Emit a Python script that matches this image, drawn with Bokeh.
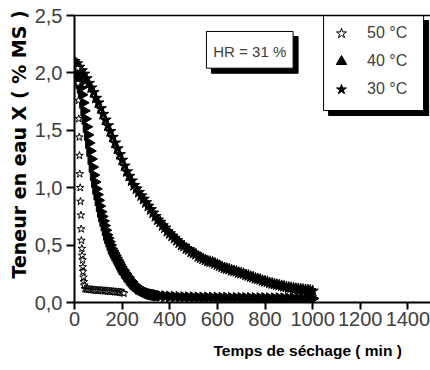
import math
from bokeh.plotting import figure
from bokeh.models import (ColumnDataSource, Legend, LegendItem, Label, Title,
                          Range1d, FixedTicker, CustomJSTickFormatter, LinearAxis)
from bokeh.embed import file_html
from bokeh.resources import INLINE

# ---------------- data ----------------
t30 = [0, 10, 20, 30, 40, 50, 60, 70, 80, 90, 100, 110, 120, 130, 140, 150, 160, 170, 180, 190,
       200, 210, 220, 230, 240, 250, 260, 270, 280, 290, 300, 310, 320, 330, 340, 350, 360, 370, 380, 390,
       400, 410, 420, 430, 440, 450, 460, 470, 480, 490, 500, 510, 520, 530, 540, 550, 560, 570, 580, 590,
       600, 610, 620, 630, 640, 650, 660, 670, 680, 690, 700, 710, 720, 730, 740, 750, 760, 770, 780, 790,
       800, 810, 820, 830, 840, 850, 860, 870, 880, 890, 900, 910, 920, 930, 940, 950, 960, 970, 980, 990, 1000]
x30 = [2.10, 2.08, 2.05, 2.02, 1.99, 1.95, 1.91, 1.87, 1.83, 1.78, 1.74, 1.69, 1.64, 1.59, 1.54, 1.49, 1.44, 1.39, 1.34, 1.29,
       1.24, 1.19, 1.14, 1.10, 1.06, 1.02, 0.99, 0.96, 0.93, 0.90, 0.87, 0.84, 0.81, 0.78, 0.75, 0.72, 0.70, 0.67, 0.65, 0.62,
       0.60, 0.58, 0.56, 0.54, 0.52, 0.50, 0.49, 0.47, 0.46, 0.44, 0.43, 0.42, 0.40, 0.39, 0.38, 0.37, 0.36, 0.355, 0.35, 0.34,
       0.33, 0.32, 0.31, 0.30, 0.295, 0.29, 0.28, 0.275, 0.27, 0.26, 0.255, 0.25, 0.24, 0.235, 0.225, 0.22, 0.21, 0.205, 0.20, 0.19,
       0.185, 0.18, 0.17, 0.165, 0.16, 0.155, 0.15, 0.145, 0.14, 0.135, 0.13, 0.128, 0.125, 0.12, 0.118, 0.115, 0.112, 0.11, 0.107, 0.105, 0.10]

t40 = [0, 5, 10, 15, 20, 25, 30, 35, 40, 45, 50, 55, 60, 65, 70, 75, 80, 85, 90, 95,
       100, 105, 110, 115, 120, 125, 130, 135, 140, 145, 150, 155, 160, 165, 170, 175, 180, 185, 190, 195,
       200, 205, 210, 215, 220, 225, 230, 235, 240, 245, 250, 255, 260, 265, 270, 275, 280, 285, 290, 295,
       300, 305, 310, 315, 320, 325, 330, 335, 340, 345, 350,
       360, 380, 400, 420, 440, 460, 480, 500, 520, 540, 560, 580, 600, 620, 640, 660, 680, 700, 720, 740,
       760, 780, 800, 820, 840, 860, 880, 900, 920, 940, 960, 980, 1000]
x40 = [2.02, 2.00, 1.97, 1.94, 1.91, 1.87, 1.81, 1.74, 1.67, 1.60, 1.53, 1.46, 1.39, 1.32, 1.25, 1.18, 1.11, 1.05, 0.99, 0.94,
       0.89, 0.84, 0.79, 0.75, 0.71, 0.67, 0.63, 0.59, 0.56, 0.53, 0.50, 0.47, 0.45, 0.43, 0.41, 0.39, 0.37, 0.35, 0.33, 0.31,
       0.29, 0.28, 0.26, 0.25, 0.23, 0.22, 0.20, 0.19, 0.18, 0.165, 0.155, 0.145, 0.14, 0.13, 0.12, 0.115, 0.11, 0.105, 0.10, 0.095,
       0.09, 0.085, 0.08, 0.077, 0.074, 0.071, 0.069, 0.067, 0.065, 0.063, 0.061,
       0.058, 0.055, 0.052, 0.050, 0.048, 0.047, 0.046, 0.045, 0.044, 0.043, 0.043, 0.042, 0.042, 0.041, 0.041, 0.040, 0.040, 0.040, 0.039, 0.039,
       0.038, 0.038, 0.038, 0.037, 0.037, 0.037, 0.036, 0.036, 0.036, 0.035, 0.035, 0.035, 0.035]

t50 = [14, 15, 17, 18, 20, 21, 22, 24, 25, 27, 28, 29, 31, 32, 34, 35, 36, 38, 39, 41,
       44, 49, 54, 59, 64, 69, 74, 79, 84, 89, 94, 99, 104, 109, 114, 119, 124, 129, 134, 139,
       144, 149, 154, 159, 164, 169, 174, 179, 184, 189, 194, 199, 204, 208]
x50 = [2.04, 1.91, 1.76, 1.60, 1.44, 1.28, 1.12, 1.00, 0.88, 0.76, 0.64, 0.54, 0.47, 0.41, 0.37, 0.31, 0.27, 0.22, 0.18, 0.15,
       0.12, 0.115, 0.118, 0.112, 0.115, 0.11, 0.113, 0.108, 0.11, 0.106, 0.108, 0.104, 0.107, 0.103, 0.105, 0.101, 0.104, 0.10, 0.102, 0.098,
       0.10, 0.096, 0.098, 0.094, 0.096, 0.092, 0.094, 0.09, 0.092, 0.088, 0.09, 0.086, 0.085, 0.08]

series_labels = ["50 °C", "40 °C", "30 °C"]
x_ticks = [0, 200, 400, 600, 800, 1000, 1200, 1400]
y_ticks = [0, 0.5, 1.0, 1.5, 2.0, 2.5]
x_title = "Temps de séchage ( min )"
y_title = "Teneur en eau X ( % MS )"
hr_text = "HR = 31 %"

SANS = "Liberation Sans"
GREY = "#404040"

# ---------------- figure ----------------
p = figure(width=430, height=370, output_backend="svg", toolbar_location=None,
           x_range=Range1d(0, 1495), y_range=Range1d(0, 2.5))
p.min_border_left = 74
p.min_border_right = 0
p.min_border_top = 15
p.min_border_bottom = 68
p.background_fill_color = "white"
p.border_fill_color = "white"
p.outline_line_color = None
p.grid.visible = False

for ax in (p.xaxis[0], p.yaxis[0]):
    ax.axis_line_width = 2
    ax.axis_line_color = "black"
    ax.major_tick_line_width = 2
    ax.major_tick_line_color = "black"
    ax.major_tick_in = 0
    ax.minor_tick_line_color = None
    ax.major_label_text_font = SANS
    ax.major_label_text_font_size = "20px"
    ax.major_label_text_color = GREY
p.xaxis[0].ticker = FixedTicker(ticks=x_ticks)
p.yaxis[0].ticker = FixedTicker(ticks=y_ticks)
p.xaxis[0].major_tick_out = 7
p.yaxis[0].major_tick_out = 8
p.xaxis[0].major_label_standoff = 2
p.yaxis[0].major_label_standoff = 4
p.yaxis[0].formatter = CustomJSTickFormatter(code="return tick.toFixed(1).replace('.', ',');")
p.xaxis[0].formatter = CustomJSTickFormatter(code="return tick.toFixed(0);")

# top frame line (no right border in the original)
top = LinearAxis(ticker=FixedTicker(ticks=[]), axis_line_width=1.5, axis_line_color="black",
                 major_tick_out=0, major_tick_in=0, minor_tick_line_color=None,
                 major_label_text_font_size="0px")
p.add_layout(top, "above")

# ---------------- series ----------------
s30 = ColumnDataSource(dict(t=t30, x=x30))
s40 = ColumnDataSource(dict(t=t40, x=x40))
s50 = ColumnDataSource(dict(t=t50, x=x50))

r30 = p.scatter("t", "x", source=s30, marker="star", size=12, fill_color="black", line_color="black")
r40 = p.scatter("t", "x", source=s40, marker="triangle", angle=-math.pi / 2, size=11,
                fill_color="black", line_color="black")
r50 = p.scatter("t", "x", source=s50, marker="star", size=8, fill_color="white", line_color="black", line_width=1)

# ---------------- decoration boxes: drop shadows + white boxes (layout, not data) ----------------
# HR box
p.quad(left=[575], right=[939], top=[2.317], bottom=[1.997],
       fill_color="black", line_color="black", line_width=1)
p.quad(left=[554], right=[918], top=[2.361], bottom=[2.041],
       fill_color="white", line_color="black", line_width=1)
# legend box, then its shadow as two strips drawn on top of the box edges
p.quad(left=[1046], right=[1466], top=[2.5], bottom=[1.672],
       fill_color="white", line_color="black", line_width=1)
p.quad(left=[1467], right=[1487], top=[2.456], bottom=[1.629],
       fill_color="black", line_color="black", line_width=1)
p.quad(left=[1067], right=[1487], top=[1.671], bottom=[1.629],
       fill_color="black", line_color="black", line_width=1)
p.add_layout(Label(x=736, y=2.186, text=hr_text, text_align="center", text_baseline="middle",
                   text_font=SANS, text_font_size="15px", text_color=GREY))

# ---------------- legend ----------------
legend = Legend(items=[LegendItem(label=series_labels[0], renderers=[r50]),
                       LegendItem(label=series_labels[1], renderers=[r40]),
                       LegendItem(label=series_labels[2], renderers=[r30])],
                location=(254, 199), orientation="vertical", padding=0, spacing=0, margin=0,
                label_height=28, glyph_height=28, glyph_width=26, label_standoff=13, label_width=51,
                border_line_color=None, background_fill_alpha=0,
                label_text_font=SANS, label_text_font_size="16px", label_text_color=GREY)
p.add_layout(legend)

# ---------------- axis titles ----------------
p.add_layout(Title(text=x_title, align="left", offset=139, standoff=23,
                   text_font=SANS, text_font_style="bold", text_font_size="15.5px",
                   text_color="black"), "below")
p.add_layout(Title(text=y_title, align="left", offset=24, standoff=4,
                   text_font="DejaVu Sans", text_font_style="bold", text_font_size="19px",
                   text_color="black"), "left")

open("out.html", "w").write(file_html(p, INLINE))
